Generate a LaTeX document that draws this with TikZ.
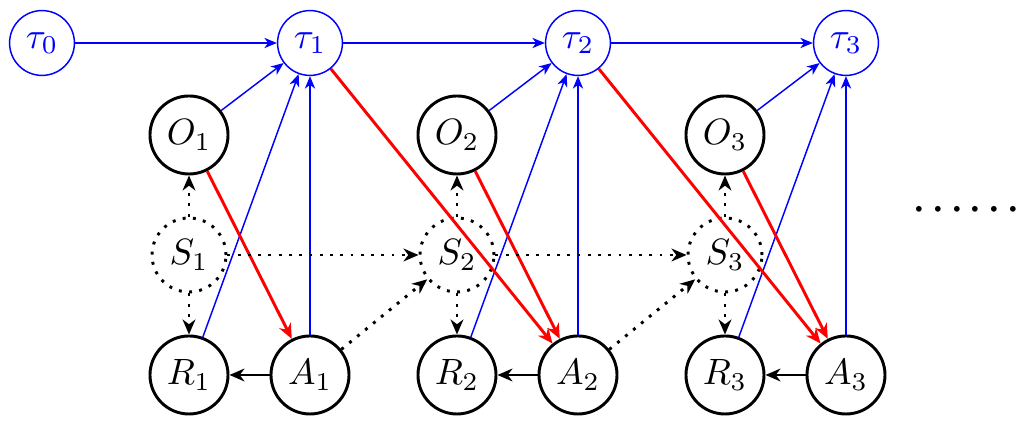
\documentclass[tikz,border=0pt]{standalone}
\usepackage{amsmath}
\usetikzlibrary{arrows.meta}
\begin{document}
\begin{tikzpicture}[x=0.273pt,y=-0.273pt,
  tnode/.style={circle,draw=blue,text=blue,minimum size=17.7pt,inner sep=0pt},
  bnode/.style={circle,draw,thick,minimum size=21.3pt,inner sep=0pt},
  snode/.style={bnode,dotted,minimum size=20.2pt},
  bl/.style={blue,-{Stealth[length=3.4pt,width=2.8pt,inset=1pt]}},
  rd/.style={red,thick,-{Stealth[length=4.1pt,width=3.5pt,inset=1.3pt]}},
  dt/.style={thick,dotted,-{Stealth[length=4.1pt,width=3.5pt,inset=1.3pt]}},
  bk/.style={thick,-{Stealth[length=4.1pt,width=3.5pt,inset=1.3pt]}}]
\useasboundingbox (0,0) rectangle (1031,432);
\node[tnode] (t0) at (42,43) {$\tau_0$};
\foreach \i/\x in {1/310,2/578,3/846}{
  \node[tnode] (t\i) at (\x,43) {$\tau_\i$};
  \node[bnode] (O\i) at (\x-121,135) {$O_\i$};
  \node[snode] (S\i) at (\x-121,255) {$S_\i$};
  \node[bnode] (R\i) at (\x-121,375) {$R_\i$};
  \node[bnode] (A\i) at (\x,375) {$A_\i$};
}
\node (dots) at (970,210) {$\boldsymbol{\cdots\cdots}$};
\foreach \i/\j in {0/1,1/2,2/3}{ \draw[bl] (t\i) -- (t\j); }
\foreach \i in {1,2,3}{
  \draw[bl] (O\i) -- (t\i);
  \draw[bl] (R\i) -- (t\i);
  \draw[bl] (A\i) -- (t\i);
  \draw[rd] (O\i) -- (A\i);
  \draw[dt] (S\i) -- (O\i);
  \draw[dt] (S\i) -- (R\i);
  \draw[bk] (A\i) -- (R\i);
}
\foreach \i/\j in {1/2,2/3}{
  \draw[rd] (t\i) -- (A\j);
  \draw[dt] (S\i) -- (S\j);
  \draw[dt] (A\i) -- (S\j);
}
\end{tikzpicture}
\end{document}
